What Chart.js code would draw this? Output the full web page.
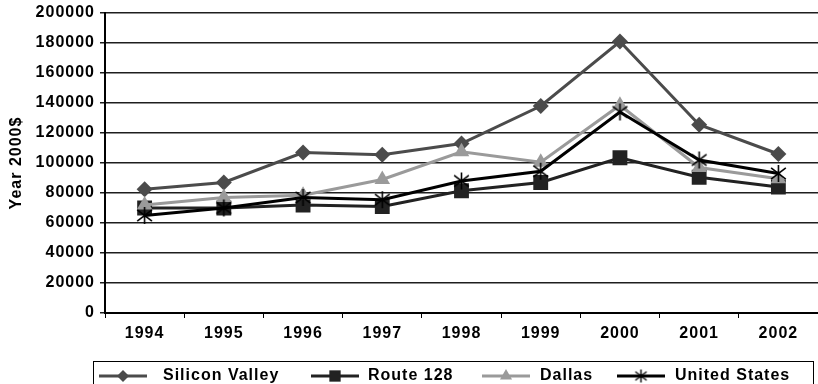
<!DOCTYPE html>
<html>
<head>
<meta charset="utf-8">
<script src="https://cdn.jsdelivr.net/npm/chart.js@4/dist/chart.umd.min.js"></script>
<style>
  html, body { margin: 0; padding: 0; background: #fff; }
  canvas { display: block; }
</style>
</head>
<body>
<canvas id="chart" width="818" height="384"></canvas>
<script>
// Annual values in year-2000 dollars
const years = ['1994', '1995', '1996', '1997', '1998', '1999', '2000', '2001', '2002'];
const siliconValley = [82500, 87000, 107000, 105500, 113000, 138000, 181000, 125500, 106000];
const route128 = [70000, 70000, 72000, 71000, 81500, 87000, 103500, 90500, 84000];
const dallas = [72000, 77000, 78500, 89000, 107500, 100500, 138500, 97000, 89500];
const unitedStates = [65000, 70000, 77000, 75500, 88000, 94500, 134000, 102000, 93000];
const seriesNames = ['Silicon Valley', 'Route 128', 'Dallas', 'United States'];
const yAxisTitle = 'Year 2000$';

const FONT = { family: '"Liberation Sans", Arial, sans-serif', size: 16, weight: 'bold' };
const LETTER_SPACING = '1px';

// six-armed asterisk marker (vertical bar plus an X)
function asteriskMarker(size, width) {
  const c = document.createElement('canvas');
  c.width = size; c.height = size;
  const g = c.getContext('2d');
  g.strokeStyle = '#000';
  g.lineWidth = width;
  const m = size / 2, r = size / 2 - 1;
  g.beginPath();
  g.moveTo(m, m - r); g.lineTo(m, m + r);
  const dx = r * Math.cos(Math.PI / 6), dy = r * Math.sin(Math.PI / 6) * 1.3;
  g.moveTo(m - dx, m - dy); g.lineTo(m + dx, m + dy);
  g.moveTo(m - dx, m + dy); g.lineTo(m + dx, m - dy);
  g.stroke();
  return c;
}
const starBig = asteriskMarker(19, 1.6);
const starSmall = asteriskMarker(15, 1.4);

function series(label, data, color, style, radius, order, legendStyle, legendRadius) {
  return {
    label, data,
    borderColor: color, backgroundColor: color,
    borderWidth: 3,
    pointStyle: style, pointRadius: radius, pointBorderWidth: 0,
    pointBackgroundColor: color, pointBorderColor: color,
    tension: 0, order,
    legendStyle, legendRadius
  };
}

const datasets = [
  series(seriesNames[0], siliconValley, '#4b4b4b', 'rectRot', 8, 4, 'rectRot', 6),
  series(seriesNames[1], route128, '#222222', 'rect', 10.5, 3, 'rect', 8),
  series(seriesNames[2], dallas, '#9a9a9a', 'triangle', 9, 2, 'triangle', 7),
  series(seriesNames[3], unitedStates, '#000000', starBig, 9, 1, starSmall, 7)
];

// slightly tracked-out lettering for all chart text
const letterSpacing = {
  id: 'letterSpacing',
  beforeUpdate(chart) { chart.ctx.letterSpacing = LETTER_SPACING; },
  beforeDraw(chart) { chart.ctx.letterSpacing = LETTER_SPACING; }
};

// legend drawn as a framed row of line samples below the axis
const legendRow = {
  id: 'legendRow',
  afterDraw(chart) {
    const ctx = chart.ctx;
    const sampleStart = [99, 311, 482, 617];
    const textStart = [163, 368, 540, 675];
    const sampleLen = 48, y = 376;
    ctx.save();
    ctx.letterSpacing = LETTER_SPACING;
    ctx.strokeStyle = '#000';
    ctx.lineWidth = 1;
    ctx.strokeRect(93.5, 361.5, 720, 40);
    chart.data.datasets.forEach((ds, i) => {
      const x0 = sampleStart[i];
      ctx.strokeStyle = ds.borderColor;
      ctx.lineWidth = 3;
      ctx.beginPath();
      ctx.moveTo(x0, y); ctx.lineTo(x0 + sampleLen, y);
      ctx.stroke();
      ctx.fillStyle = ds.backgroundColor;
      ctx.strokeStyle = ds.borderColor;
      Chart.helpers.drawPoint(ctx, {
        pointStyle: ds.legendStyle, radius: ds.legendRadius, rotation: 0, borderWidth: 0
      }, x0 + sampleLen / 2, y);
      ctx.fillStyle = '#000';
      ctx.font = `bold ${FONT.size}px ${FONT.family}`;
      ctx.textBaseline = 'middle';
      ctx.textAlign = 'left';
      ctx.fillText(ds.label, textStart[i], y);
    });
    ctx.restore();
  }
};

new Chart(document.getElementById('chart'), {
  type: 'line',
  data: { labels: years, datasets },
  plugins: [letterSpacing, legendRow],
  options: {
    responsive: false,
    animation: false,
    layout: { autoPadding: false, padding: { top: 13, right: 0, bottom: 0, left: 0 } },
    plugins: { legend: { display: false }, tooltip: { enabled: false } },
    scales: {
      x: {
        offset: true,
        grid: { offset: true, drawOnChartArea: false, drawTicks: true, tickLength: 5, color: '#000', lineWidth: 1 },
        border: { color: '#000', width: 2 },
        ticks: { font: FONT, color: '#000', padding: 6, maxRotation: 0, autoSkip: false },
        afterFit(scale) {
          scale.height = 71;
          scale.paddingLeft = 0;
          scale.paddingRight = 0;
        }
      },
      y: {
        min: 0, max: 200000,
        ticks: { stepSize: 20000, font: FONT, color: '#000', padding: 5, callback: v => String(v) },
        grid: { color: '#1e1e1e', lineWidth: 1.5, tickLength: 5 },
        border: { color: '#000', width: 2 },
        title: { display: true, text: yAxisTitle, font: FONT, color: '#000', padding: { top: 7, bottom: 0 } },
        afterFit(scale) {
          scale.width = 105;
          scale.paddingTop = 0;
          scale.paddingBottom = 0;
        }
      }
    }
  }
});
</script>
</body>
</html>
